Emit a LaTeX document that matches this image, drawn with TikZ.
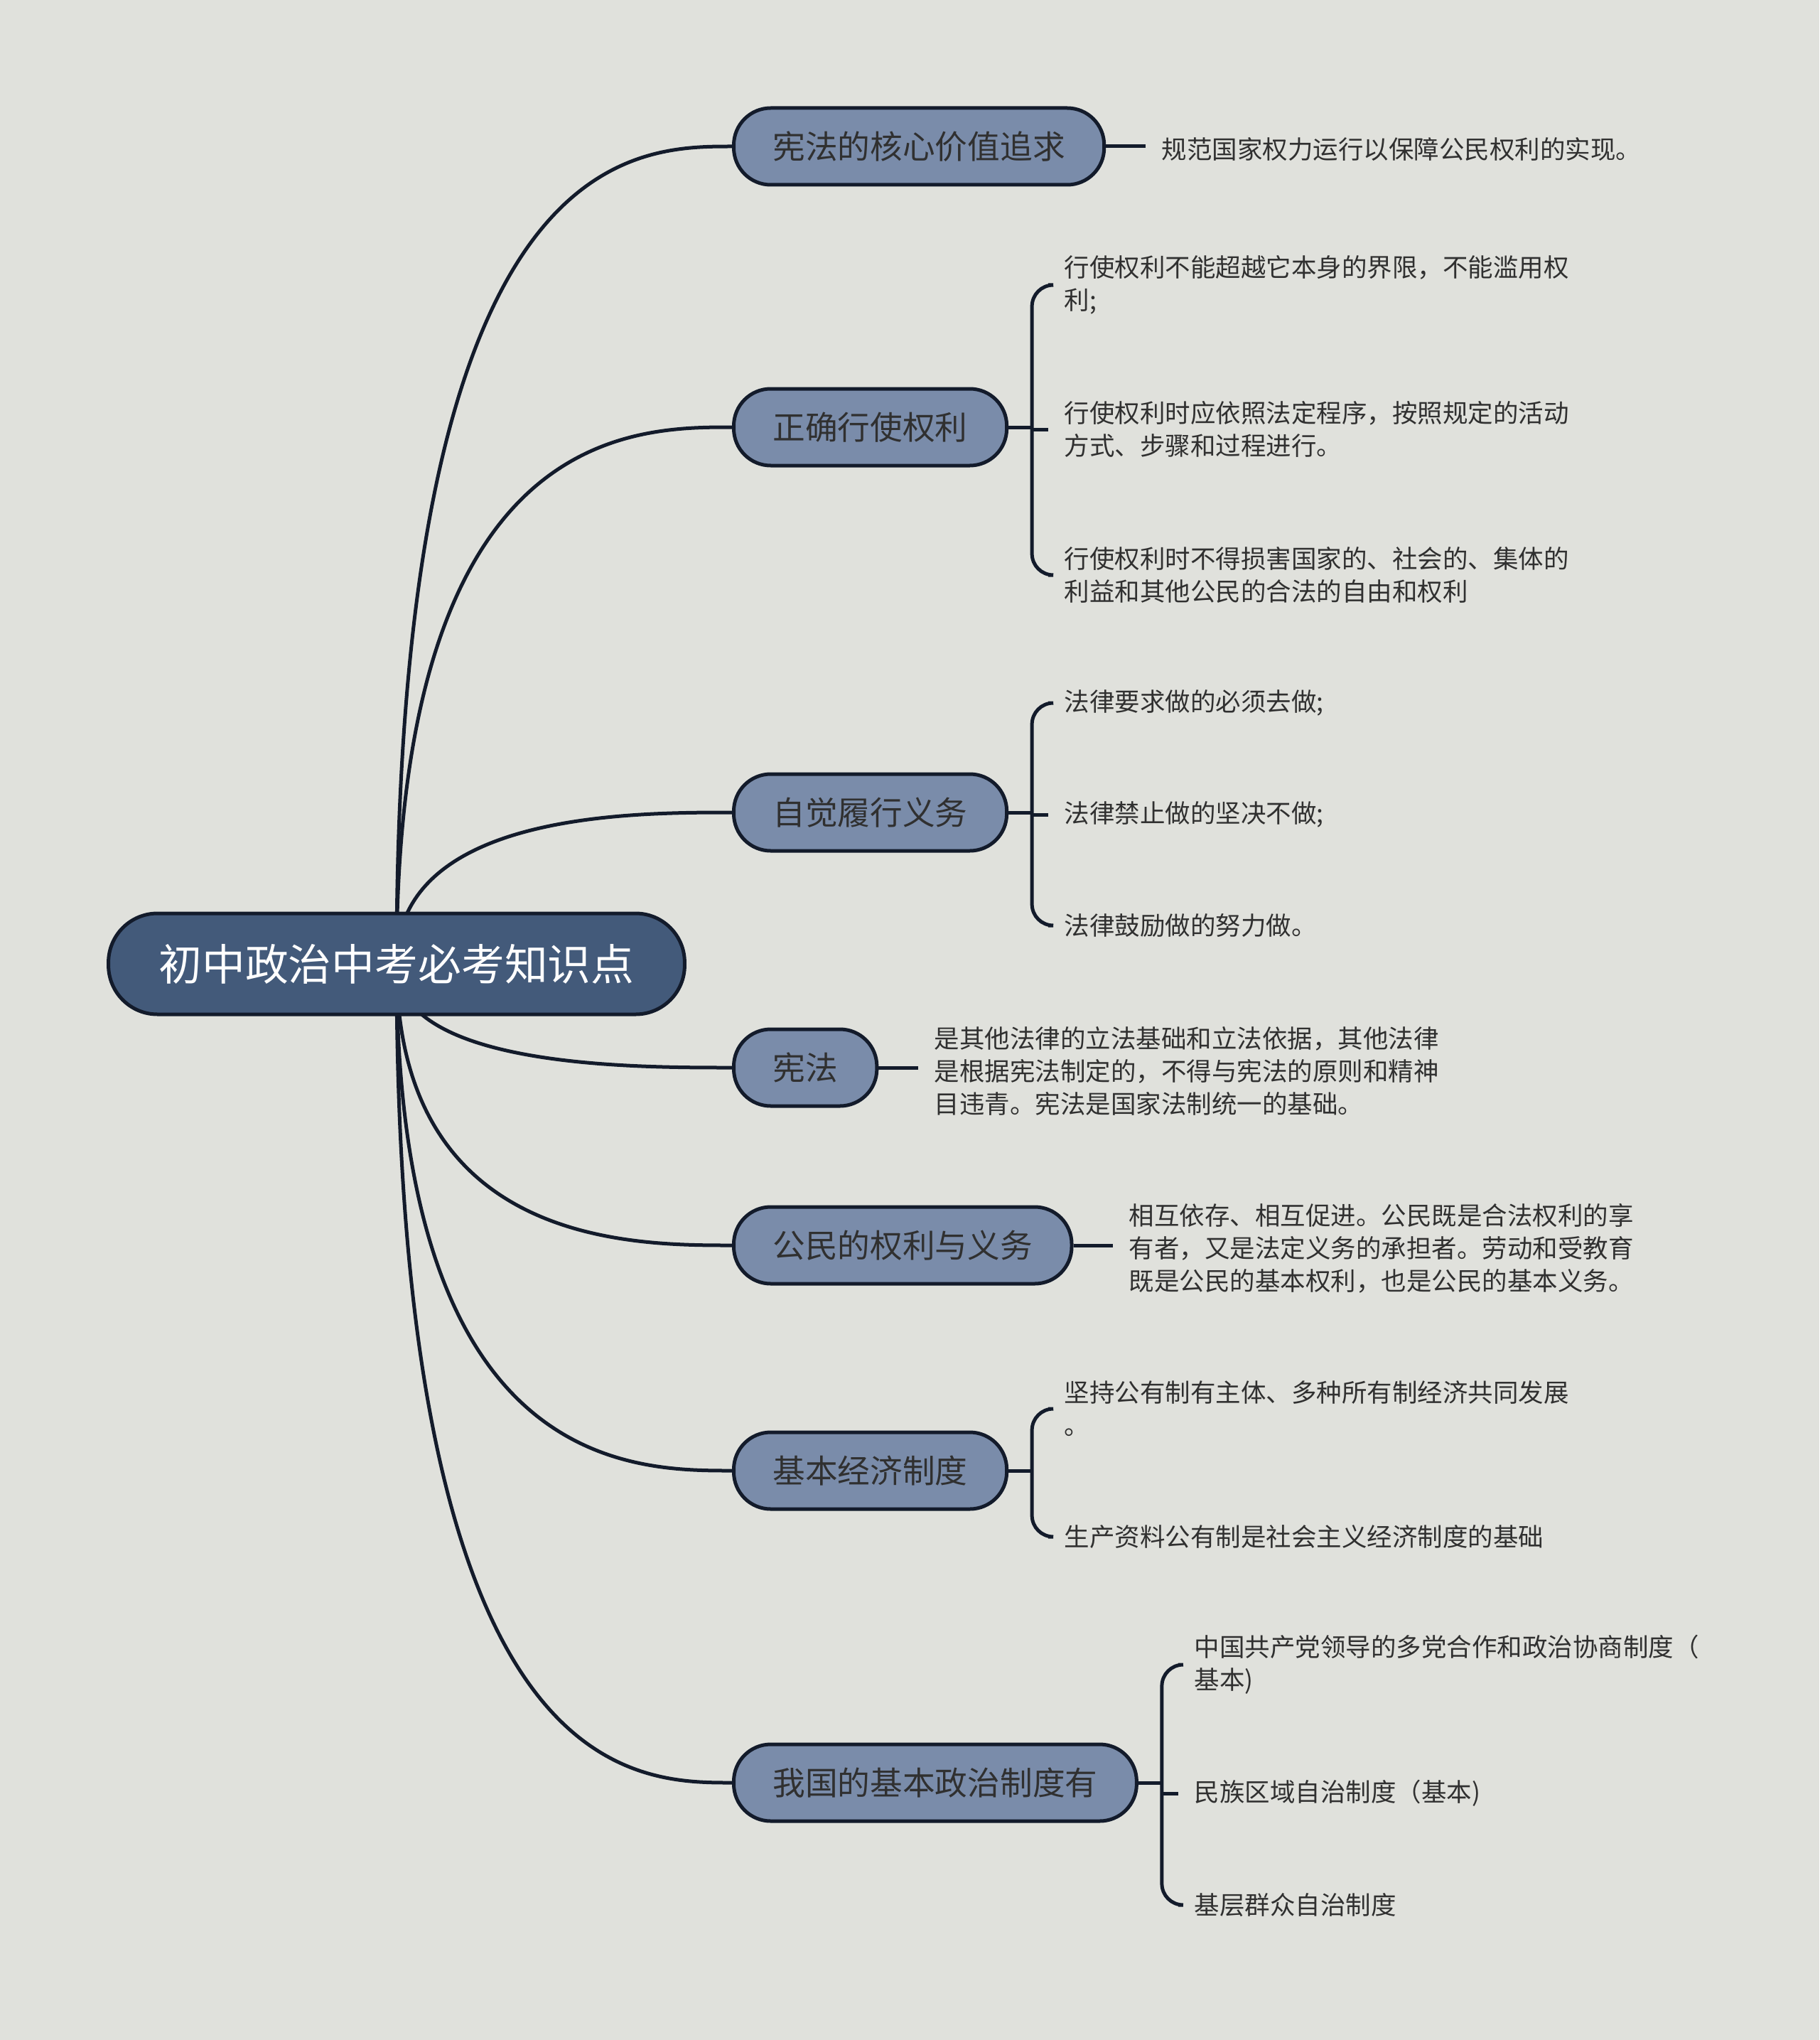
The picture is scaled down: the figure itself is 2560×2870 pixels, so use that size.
\documentclass[tikz,border=0pt]{standalone}
\usepackage{fontspec}
\setmainfont{Noto Sans CJK SC}
\usepackage{tikz}
\usetikzlibrary{calc,backgrounds}
\definecolor{mmbg}{HTML}{E0E1DC}
\definecolor{mmrootfill}{HTML}{435A7A}
\definecolor{mmtopicfill}{HTML}{7A8CAA}
\definecolor{mmline}{HTML}{131B2B}
\definecolor{mmtext}{HTML}{303030}
\tikzset{
  mmroot/.style={
    rectangle, rounded corners=6.9mm, draw=mmline, fill=mmrootfill, line width=0.5mm,
    minimum height=14.2mm, inner xsep=7.1mm, text=white,
    font=\fontsize{17.3pt}{20pt}\selectfont
  },
  mmtopic/.style={
    rectangle, rounded corners=5.2mm, draw=mmline, fill=mmtopicfill, line width=0.5mm,
    minimum height=10.8mm, inner xsep=5.5mm, anchor=west, text=mmtext,
    font=\fontsize{13pt}{16pt}\selectfont
  },
  mmleaf/.style={
    anchor=west, align=left, inner xsep=2.2mm, inner ysep=0pt, text=mmtext,
    yshift=-0.3mm, font=\fontsize{10.1pt}{13.1pt}\selectfont
  },
  mmlink/.style={draw=mmline, line width=0.5mm},
  mmbrace/.style={mmlink, rounded corners=3mm},
  mmcurve/.style={to path={.. controls (\tikztostart |- \tikztotarget)
    and ($(\tikztostart |- \tikztotarget)!0.7!(\tikztotarget)$) .. (\tikztotarget)}}
}

\begin{document}
\begin{tikzpicture}[x=0.1mm,y=-0.1mm]
  \useasboundingbox (0,0) rectangle (2560,2870);
  % root and main topics
  \node[mmroot] (root) at (558,1356) {初中政治中考必考知识点};
  \node[mmtopic] (b1) at (1030,206) {宪法的核心价值追求};
  \node[mmtopic] (b2) at (1030,601) {正确行使权利};
  \node[mmtopic] (b3) at (1030,1143) {自觉履行义务};
  \node[mmtopic] (b4) at (1030,1502) {宪法};
  \node[mmtopic] (b5) at (1030,1752) {公民的权利与义务};
  \node[mmtopic] (b6) at (1030,2069) {基本经济制度};
  \node[mmtopic] (b7) at (1030,2508) {我国的基本政治制度有};
  % leaves
  \node[mmleaf] (l1) at (1612,207) {规范国家权力运行以保障公民权利的实现。};
  \node[mmleaf] (l21) at (1475,398) {行使权利不能超越它本身的界限，不能滥用权\\利;};
  \node[mmleaf] (l22) at (1475,601) {行使权利时应依照法定程序，按照规定的活动\\方式、步骤和过程进行。};
  \node[mmleaf] (l23) at (1475,806) {行使权利时不得损害国家的、社会的、集体的\\利益和其他公民的合法的自由和权利};
  \node[mmleaf] (l31) at (1475,986) {法律要求做的必须去做;};
  \node[mmleaf] (l32) at (1475,1143) {法律禁止做的坚决不做;};
  \node[mmleaf] (l33) at (1475,1299) {法律鼓励做的努力做。};
  \node[mmleaf] (l4) at (1292,1504) {是其他法律的立法基础和立法依据，其他法律\\是根据宪法制定的，不得与宪法的原则和精神\\目违青。宪法是国家法制统一的基础。};
  \node[mmleaf] (l5) at (1566,1753) {相互依存、相互促进。公民既是合法权利的享\\有者，又是法定义务的承担者。劳动和受教育\\既是公民的基本权利，也是公民的基本义务。};
  \node[mmleaf] (l61) at (1475,1979) {坚持公有制有主体、多种所有制经济共同发展\\。};
  \node[mmleaf] (l62) at (1475,2159) {生产资料公有制是社会主义经济制度的基础};
  \node[mmleaf] (l71) at (1658,2339) {中国共产党领导的多党合作和政治协商制度（\\基本)};
  \node[mmleaf] (l72) at (1658,2520) {民族区域自治制度（基本)};
  \node[mmleaf] (l73) at (1658,2677) {基层群众自治制度};
  % bracket joints
  \coordinate (k2) at ($(b2.east)+(33,0)$);
  \coordinate (k3) at ($(b3.east)+(33,0)$);
  \coordinate (k6) at ($(b6.east)+(33,0)$);
  \coordinate (k7) at ($(b7.east)+(33,0)$);
  \begin{scope}[on background layer]
    \fill[mmbg] (0,0) rectangle (2560,2870);
    \draw[mmlink] (root.center) to[mmcurve] (b1.west);
    \draw[mmlink] (root.center) to[mmcurve] (b2.west);
    \draw[mmlink] (root.center) to[mmcurve] (b3.west);
    \draw[mmlink] (root.center) to[mmcurve] (b4.west);
    \draw[mmlink] (root.center) to[mmcurve] (b5.west);
    \draw[mmlink] (root.center) to[mmcurve] (b6.west);
    \draw[mmlink] (root.center) to[mmcurve] (b7.west);
  \end{scope}
  \draw[mmlink] (b1.east) -- (b1.east -| l1.west);
  \draw[mmlink] (b4.east) -- (b4.east -| l4.west);
  \draw[mmlink] (b5.east) -- (b5.east -| l5.west);
  \draw[mmlink] (b2.east) -- (k2);
  \draw[mmbrace] (l21.west) -| (k2) |- (l23.west);
  \draw[mmlink] (k2 |- l22.west) -- (l22.west);
  \draw[mmlink] (b3.east) -- (k3);
  \draw[mmbrace] (l31.west) -| (k3) |- (l33.west);
  \draw[mmlink] (k3 |- l32.west) -- (l32.west);
  \draw[mmlink] (b6.east) -- (k6);
  \draw[mmbrace] (l61.west) -| (k6) |- (l62.west);
  \draw[mmlink] (b7.east) -- (k7);
  \draw[mmbrace] (l71.west) -| (k7) |- (l73.west);
  \draw[mmlink] (k7 |- l72.west) -- (l72.west);
\end{tikzpicture}
\end{document}
